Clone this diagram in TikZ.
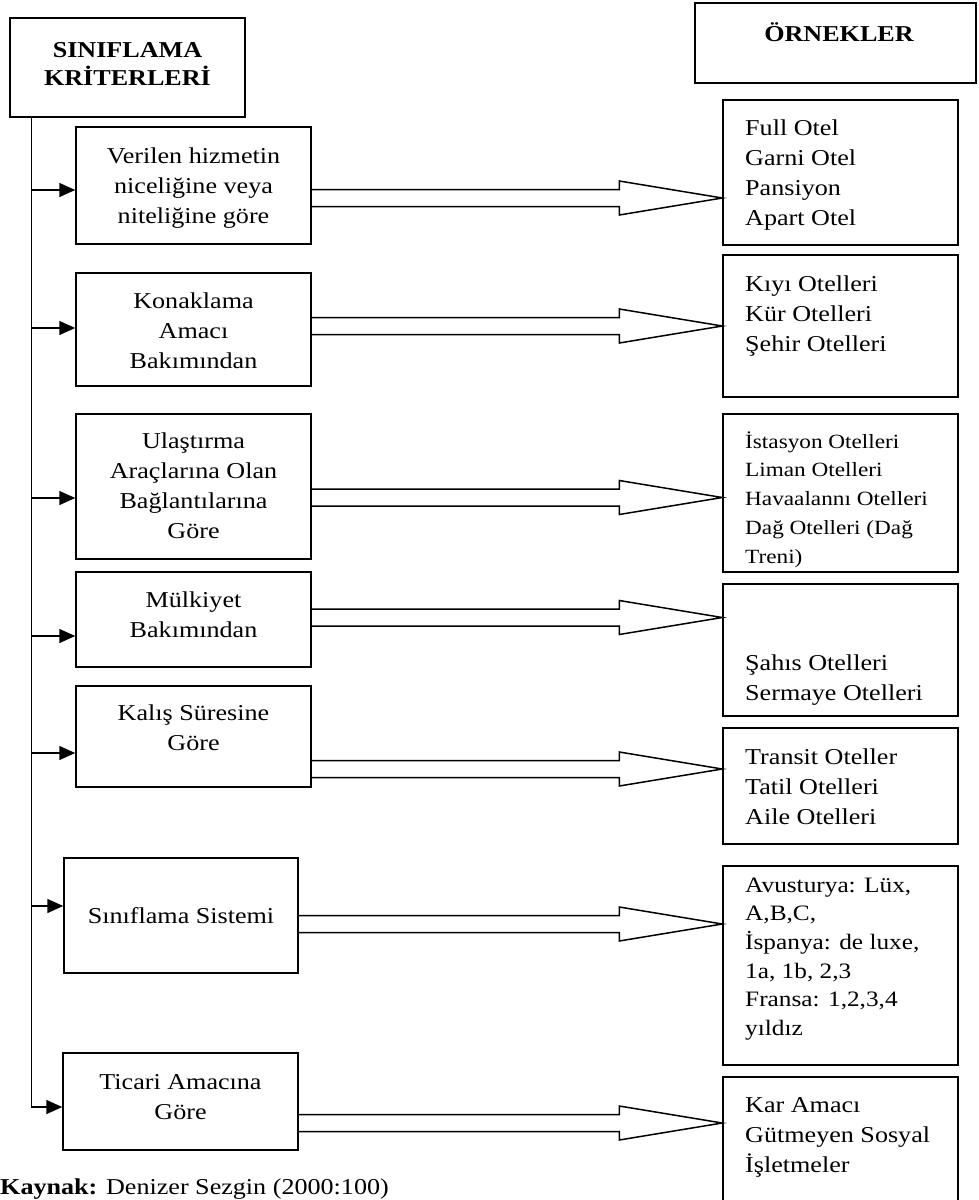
\documentclass[tikz,border=0pt]{standalone}
\usepackage{fontspec}
\setmainfont{Liberation Serif}[FakeStretch=1.15]
\usetikzlibrary{arrows.meta}
\newcommand\mystrut{\rule{0pt}{22pt}}
\newcommand\dblarrow[4]{%
  \coordinate (ds#1) at (#2.east |- 0,#4);
  \coordinate (dt#1) at (#3.west |- 0,#4);
  \draw[dbl] ([yshift=8.5pt]ds#1) -- ([xshift=-103pt,yshift=8.5pt]dt#1)
    -- ([xshift=-103pt,yshift=17pt]dt#1) -- (dt#1)
    -- ([xshift=-103pt,yshift=-17pt]dt#1) -- ([xshift=-103pt,yshift=-8.5pt]dt#1)
    -- ([yshift=-8.5pt]ds#1);
}
\begin{document}
\begin{tikzpicture}[x=1pt,y=-1pt,
  box/.style={draw, line width=1.5pt, inner sep=0pt, rectangle},
  txt/.style={inner sep=0pt, font=\fontsize{22.7pt}{30pt}\selectfont},
  ctxt/.style={txt, anchor=north, align=center},
  ltxt/.style={txt, anchor=north west, align=left},
  htxt/.style={ctxt, font=\fontsize{22.7pt}{28pt}\selectfont\bfseries},
  feed/.style={line width=1.5pt, -{Triangle[length=16pt,width=14pt]}},
  dbl/.style={line width=1.5pt, line join=miter},
]
\useasboundingbox (0,0) rectangle (978,1200);
\clip (0,0) rectangle (978,1200);

% headers
\node[box, minimum width=235pt, minimum height=99pt] (hdr) at (127.5,67.5) {};
\node[htxt] (hdrt) at (127.5,35) {\mystrut SINIFLAMA\\KRİTERLERİ};
\node[box, minimum width=281pt, minimum height=80pt] (orn) at (835.5,43) {};
\node[htxt] (ornt) at (839,19) {\mystrut ÖRNEKLER};

% left boxes
\node[box, minimum width=235pt, minimum height=117pt] (b1) at (193.5,185.5) {};
\node[ctxt] (tb1) at (193.5,141) {\mystrut Verilen hizmetin\\niceliğine veya\\niteliğine göre};
\node[box, minimum width=235pt, minimum height=113pt] (b2) at (193.5,329.5) {};
\node[ctxt] (tb2) at (193.5,286) {\mystrut Konaklama\\Amacı\\Bakımından};
\node[box, minimum width=235pt, minimum height=145pt] (b3) at (193.5,486.5) {};
\node[ctxt] (tb3) at (193.5,426) {\mystrut Ulaştırma\\Araçlarına Olan\\Bağlantılarına\\Göre};
\node[box, minimum width=235pt, minimum height=95pt] (b4) at (193.5,619.5) {};
\node[ctxt] (tb4) at (193.5,585) {\mystrut Mülkiyet\\Bakımından};
\node[box, minimum width=235pt, minimum height=101pt] (b5) at (193.5,736.5) {};
\node[ctxt] (tb5) at (193.5,698) {\mystrut Kalış Süresine\\Göre};
\node[box, minimum width=234pt, minimum height=115pt] (b6) at (181,915.5) {};
\node[ctxt] (tb6) at (181,901) {\mystrut Sınıflama Sistemi};
\node[box, minimum width=235pt, minimum height=97pt] (b7) at (180.5,1101.5) {};
\node[ctxt] (tb7) at (180.5,1067) {\mystrut Ticari Amacına\\Göre};

% right boxes
\node[box, minimum width=235pt, minimum height=145pt] (r1) at (840.5,172.5) {};
\node[ltxt] (tr1) at (745,113) {\mystrut Full Otel\\Garni Otel\\Pansiyon\\Apart Otel};
\node[box, minimum width=235pt, minimum height=142pt] (r2) at (840.5,326) {};
\node[ltxt] (tr2) at (745,269) {\mystrut Kıyı Otelleri\\Kür Otelleri\\Şehir Otelleri};
\node[box, minimum width=235pt, minimum height=158pt] (r3) at (840.5,493) {};
\node[ltxt, font=\fontsize{20.2pt}{28.7pt}\selectfont] (tr3) at (745,426) {\mystrut İstasyon Otelleri\\Liman Otelleri\\Havaalannı Otelleri\\Dağ Otelleri (Dağ\\Treni)};
\node[box, minimum width=235pt, minimum height=132pt] (r4) at (840.5,650) {};
\node[ltxt] (tr4) at (745,648) {\mystrut Şahıs Otelleri\\Sermaye Otelleri};
\node[box, minimum width=235pt, minimum height=116pt] (r5) at (840.5,786) {};
\node[ltxt] (tr5) at (745,742) {\mystrut Transit Oteller\\Tatil Otelleri\\Aile Otelleri};
\node[box, minimum width=235pt, minimum height=199pt] (r6) at (840.5,965.5) {};
\node[ltxt, font=\fontsize{22pt}{28.6pt}\selectfont] (tr6) at (745,870) {\mystrut Avusturya: Lüx,\\A,B,C,\\İspanya: de luxe,\\1a, 1b, 2,3\\Fransa: 1,2,3,4\\yıldız};
\node[box, minimum width=235pt, minimum height=140pt] (r7) at (840.5,1147) {};
\node[ltxt] (tr7) at (745,1090) {\mystrut Kar Amacı\\Gütmeyen Sosyal\\İşletmeler};

% trunk and feed arrows
\coordinate (trk) at ([xshift=22pt]hdr.south west);
\draw[line width=1.5pt] (trk) -- (trk |- 0,1107);
\draw[feed] (trk |- 0,190) -- (b1.west |- 0,190);
\draw[feed] (trk |- 0,328) -- (b2.west |- 0,328);
\draw[feed] (trk |- 0,498) -- (b3.west |- 0,498);
\draw[feed] (trk |- 0,636) -- (b4.west |- 0,636);
\draw[feed] (trk |- 0,753) -- (b5.west |- 0,753);
\draw[feed] (trk |- 0,906) -- (b6.west |- 0,906);
\draw[feed] (trk) |- (b7.west |- 0,1107);

% double arrows
\dblarrow{1}{b1}{r1}{198}
\dblarrow{2}{b2}{r2}{326}
\dblarrow{3}{b3}{r3}{497.5}
\dblarrow{4}{b4}{r4}{617.5}
\dblarrow{5}{b5}{r5}{769}
\dblarrow{6}{b6}{r6}{924}
\dblarrow{7}{b7}{r7}{1123}

% source
\node[txt, anchor=base west] (src) at (0,1194) {\textbf{Kaynak:} Denizer Sezgin (2000:100)};
\end{tikzpicture}
\end{document}
